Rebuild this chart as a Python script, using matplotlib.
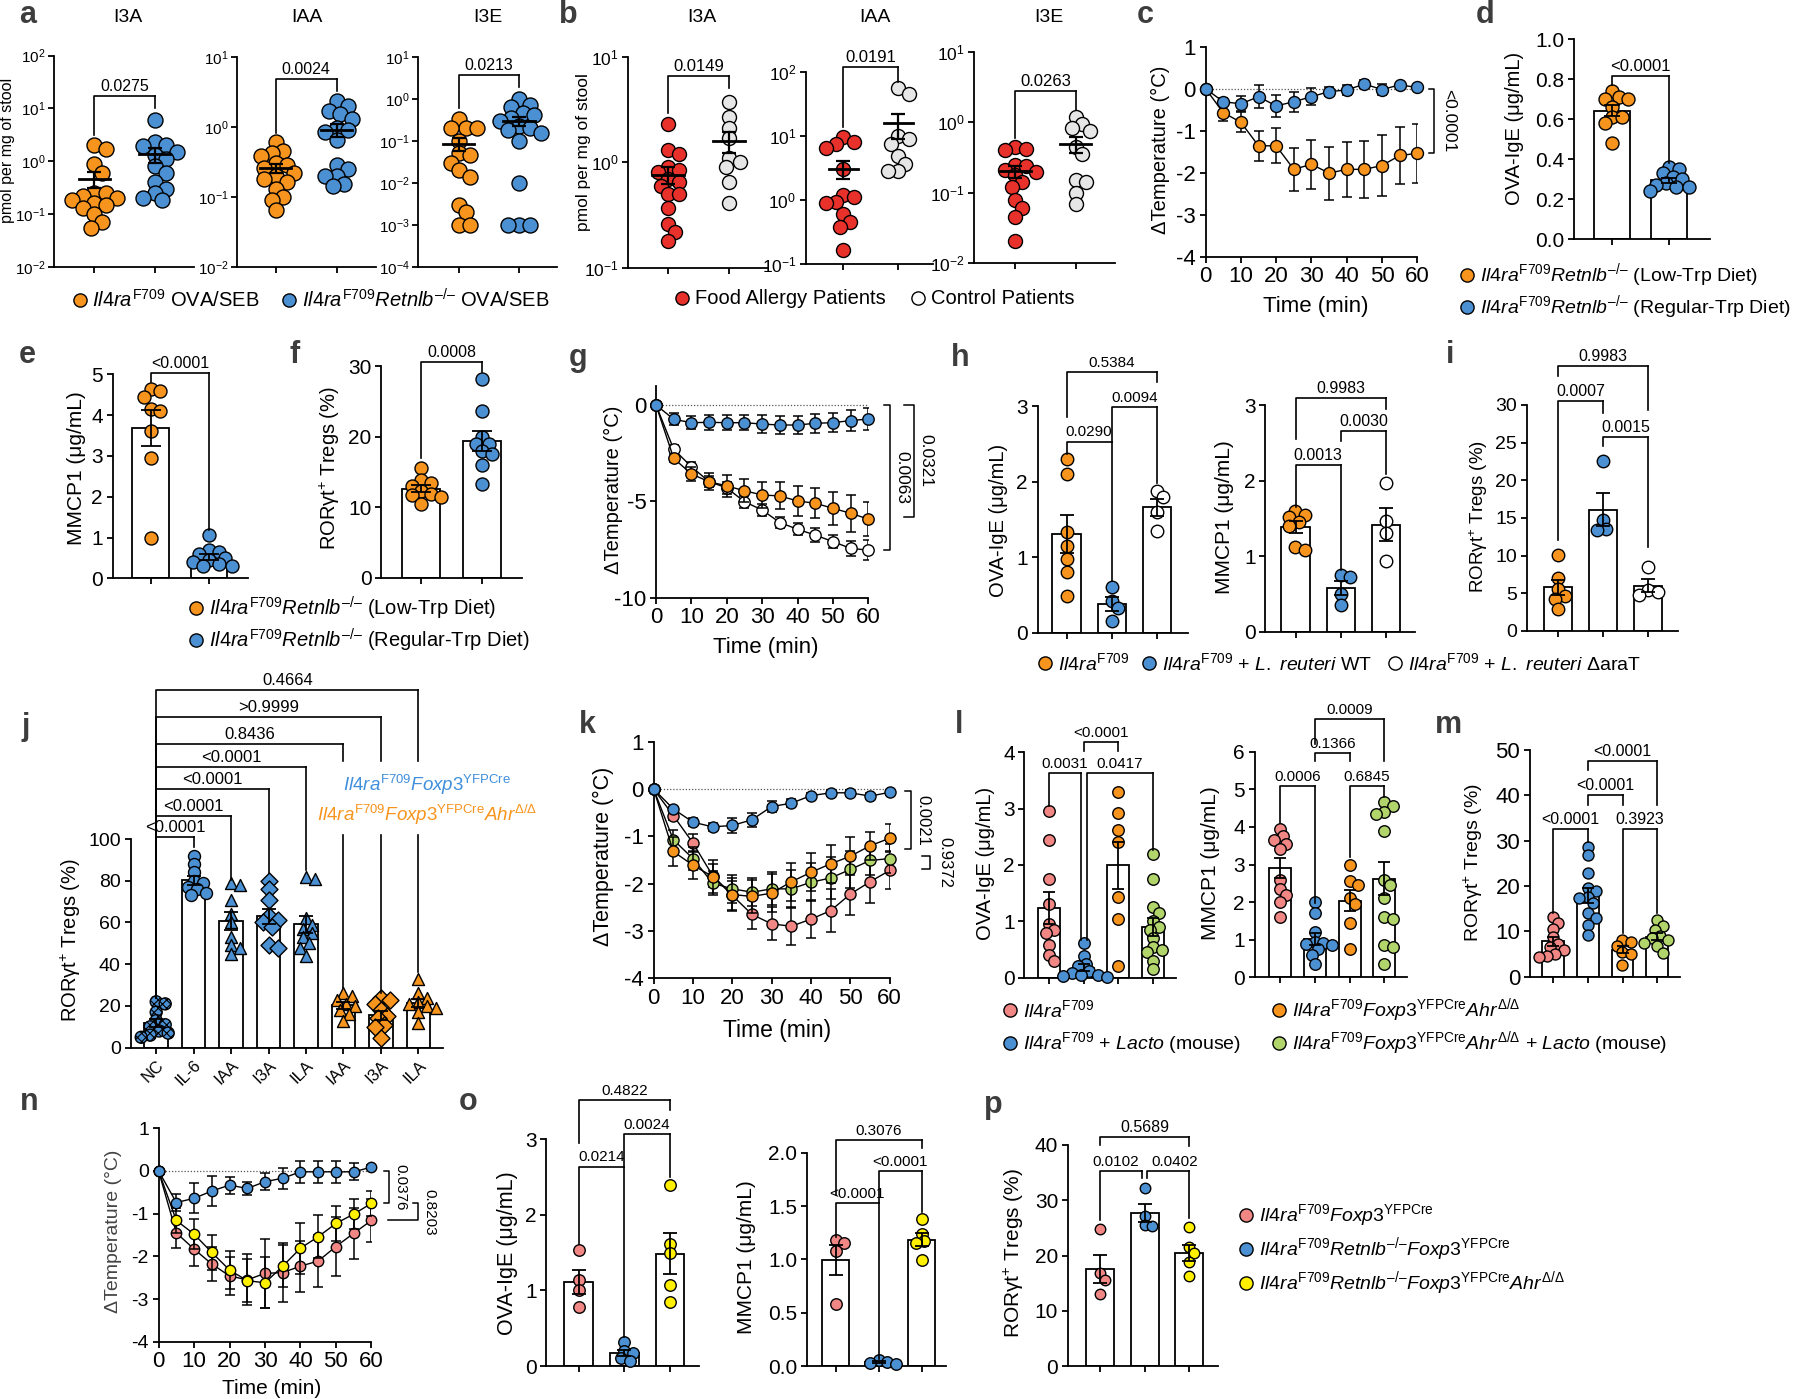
import numpy as np
import matplotlib
matplotlib.use('Agg')
import matplotlib.pyplot as plt
from matplotlib import font_manager
from matplotlib.ticker import NullLocator
from matplotlib.transforms import blended_transform_factory

# ---------------------------------------------------------------
# values
# ---------------------------------------------------------------
# a: stool indoles (pmol per mg), Il4raF709 vs Il4raF709 Retnlb-/- (OVA/SEB)
a_i3a_f709 = [2.0, 1.7, 0.9, 0.6, 0.25, 0.25, 0.22, 0.2, 0.18, 0.16, 0.15, 0.13, 0.1, 0.07, 0.055]
a_i3a_retnlb = [6.0, 2.3, 2.0, 1.9, 1.5, 1.3, 1.1, 0.8, 0.6, 0.4, 0.3, 0.25, 0.2, 0.18]
a_iaa_f709 = [0.6, 0.45, 0.42, 0.38, 0.3, 0.28, 0.26, 0.22, 0.2, 0.18, 0.16, 0.13, 0.1, 0.09, 0.065]
a_iaa_retnlb = [2.3, 2.0, 1.7, 1.5, 1.3, 0.95, 0.9, 0.85, 0.65, 0.28, 0.25, 0.2, 0.2, 0.15, 0.14]
a_i3e_f709 = [0.33, 0.2, 0.2, 0.2, 0.1, 0.05, 0.045, 0.03, 0.02, 0.014, 0.003, 0.002, 0.001, 0.001]
a_i3e_retnlb = [1.0, 0.7, 0.65, 0.45, 0.4, 0.35, 0.3, 0.22, 0.2, 0.18, 0.15, 0.1, 0.01, 0.001, 0.001, 0.001]

# b: patients (pmol per mg)
b_i3a_fa = [2.3, 1.3, 1.2, 0.9, 0.85, 0.8, 0.7, 0.65, 0.6, 0.5, 0.5, 0.37, 0.26, 0.22, 0.18]
b_i3a_ctrl = [3.7, 2.7, 2.1, 1.7, 1.1, 1.0, 0.9, 0.65, 0.41]
b_iaa_fa = [9.5, 8.0, 7.5, 6.5, 3.0, 1.2, 1.1, 0.95, 0.9, 0.6, 0.45, 0.38, 0.17]
b_iaa_ctrl = [55, 45, 10, 9, 7.5, 4.8, 3.7, 2.8, 2.8]
b_i3e_fa = [0.45, 0.42, 0.4, 0.25, 0.24, 0.21, 0.2, 0.18, 0.14, 0.12, 0.08, 0.06, 0.046, 0.021]
b_i3e_ctrl = [1.2, 0.95, 0.82, 0.75, 0.45, 0.36, 0.15, 0.14, 0.1, 0.07]

minutes = [0, 5, 10, 15, 20, 25, 30, 35, 40, 45, 50, 55, 60]

# c: delta temperature, low-Trp (orange) vs regular-Trp (blue)
c_low = [0, -0.57, -0.8, -1.36, -1.36, -1.92, -1.8, -2.01, -1.92, -1.92, -1.83, -1.59, -1.54]
c_low_sem = [0, 0.19, 0.24, 0.35, 0.42, 0.52, 0.58, 0.63, 0.65, 0.68, 0.73, 0.67, 0.7]
c_reg = [0, -0.31, -0.36, -0.19, -0.41, -0.31, -0.19, -0.07, -0.03, 0.11, -0.02, 0.09, 0.03]
c_reg_sem = [0, 0.1, 0.18, 0.27, 0.27, 0.24, 0.2, 0.1, 0.13, 0.1, 0.14, 0.05, 0.05]

# d, e, f: low-Trp vs regular-Trp diet
d_low = [0.74, 0.71, 0.70, 0.70, 0.66, 0.61, 0.61, 0.58, 0.48]
d_reg = [0.36, 0.35, 0.33, 0.31, 0.30, 0.28, 0.27, 0.26, 0.26, 0.24]
e_low = [4.65, 4.6, 4.45, 4.15, 4.1, 3.6, 2.95, 1.0]
e_reg = [1.05, 0.7, 0.65, 0.6, 0.5, 0.45, 0.4, 0.35, 0.3, 0.3]
f_low = [15.5, 13.8, 13.4, 13.0, 12.3, 11.9, 11.7, 11.5, 10.5]
f_reg = [28.1, 23.6, 20.0, 19.0, 18.9, 17.9, 17.6, 16.0, 13.3]

# g: Il4raF709 (orange), + L. reuteri WT (blue), + L. reuteri dAraT (white)
g_f709 = [0, -2.77, -3.58, -3.98, -4.2, -4.45, -4.67, -4.72, -4.98, -5.1, -5.36, -5.62, -5.92]
g_f709_sem = [0, 0.2, 0.35, 0.43, 0.55, 0.6, 0.65, 0.7, 0.78, 0.78, 0.87, 0.95, 0.9]
g_wt = [0, -0.74, -0.92, -0.9, -0.92, -0.92, -0.99, -1.04, -1.04, -0.95, -0.92, -0.81, -0.73]
g_wt_sem = [0, 0.3, 0.35, 0.4, 0.4, 0.4, 0.45, 0.45, 0.46, 0.5, 0.5, 0.55, 0.55]
g_dara = [0, -2.3, -3.2, -3.98, -4.3, -5.02, -5.45, -6.1, -6.45, -6.75, -7.09, -7.44, -7.53]
g_dara_sem = [0, 0.2, 0.25, 0.3, 0.3, 0.3, 0.3, 0.3, 0.3, 0.35, 0.35, 0.4, 0.5]

# h, i
h_ige_f709 = [2.3, 2.1, 1.33, 1.15, 0.97, 0.8, 0.48]
h_ige_wt = [0.6, 0.42, 0.33, 0.16]
h_ige_dara = [1.88, 1.8, 1.6, 1.35]
h_mmcp_f709 = [1.6, 1.55, 1.52, 1.45, 1.4, 1.12, 1.08]
h_mmcp_wt = [0.75, 0.72, 0.5, 0.35]
h_mmcp_dara = [1.97, 1.47, 1.3, 0.93]
i_f709 = [10.1, 7.1, 5.6, 4.7, 4.3, 2.9]
i_wt = [22.6, 14.7, 13.6, 13.4]
i_dara = [8.5, 5.5, 5.2, 4.8]

# j: in vitro RORgt+ Treg induction
j_groups = ['NC', 'IL-6', 'IAA', 'I3A', 'ILA', 'IAA', 'I3A', 'ILA']
j_nc = [22, 21, 17, 13, 11, 10, 8, 7, 6, 5]
j_il6 = [92, 88, 84, 80, 79, 77, 76, 74, 73]
j_iaa = [79, 78, 71, 64, 60, 53, 49, 48, 45]
j_i3a = [80, 76, 71, 63, 61, 60, 58, 49, 48]
j_ila = [82, 81, 62, 59, 57, 55, 53, 50, 48, 44]
j_iaa_ahr = [26, 25, 23, 21, 20, 18, 16, 13]
j_i3a_ahr = [24, 23, 21, 18, 15, 14, 11, 10, 4.5]
j_ila_ahr = [33, 26, 24, 22, 21, 20, 19, 17, 12]

# k: pink Il4raF709, blue + Lacto, orange AhrD/D, green AhrD/D + Lacto
k_f709 = [0, -0.56, -1.14, -1.83, -2.25, -2.65, -2.85, -2.9, -2.75, -2.57, -2.22, -1.96, -1.72]
k_f709_sem = [0, 0.1, 0.2, 0.25, 0.3, 0.3, 0.35, 0.4, 0.4, 0.45, 0.45, 0.45, 0.4]
k_lacto = [0, -0.42, -0.7, -0.8, -0.77, -0.65, -0.37, -0.3, -0.14, -0.08, -0.08, -0.15, -0.07]
k_lacto_sem = [0, 0.05, 0.08, 0.08, 0.15, 0.15, 0.12, 0.08, 0.06, 0.06, 0.06, 0.06, 0.05]
k_ahr = [0, -1.32, -1.61, -1.85, -2.23, -2.27, -2.2, -1.96, -1.76, -1.58, -1.42, -1.2, -1.04]
k_ahr_sem = [0, 0.3, 0.3, 0.35, 0.35, 0.35, 0.4, 0.4, 0.4, 0.4, 0.4, 0.3, 0.3]
k_ahr_lacto = [0, -1.07, -1.47, -1.99, -2.11, -2.18, -2.11, -2.11, -1.97, -1.88, -1.7, -1.51, -1.47]
k_ahr_lacto_sem = [0, 0.2, 0.25, 0.25, 0.3, 0.3, 0.35, 0.4, 0.4, 0.45, 0.4, 0.3, 0.3]

# l, m
l_ige_f709 = [2.95, 2.45, 1.75, 1.3, 0.95, 0.85, 0.8, 0.58, 0.4, 0.3]
l_ige_lacto = [0.62, 0.38, 0.25, 0.2, 0.12, 0.08, 0.05, 0.04, 0.03, 0.02]
l_ige_ahr = [3.3, 2.93, 2.62, 2.4, 1.44, 1.05, 0.2]
l_ige_ahr_lacto = [2.2, 1.75, 1.25, 1.15, 1.0, 0.9, 0.85, 0.7, 0.55, 0.5, 0.45, 0.3, 0.15]
l_mmcp_f709 = [3.95, 3.75, 3.65, 3.55, 3.4, 2.6, 2.35, 2.2, 2.0, 1.6]
l_mmcp_lacto = [2.0, 1.7, 1.2, 0.95, 0.9, 0.88, 0.85, 0.75, 0.6, 0.35]
l_mmcp_ahr = [3.0, 2.55, 2.45, 2.1, 1.95, 1.45, 0.75]
l_mmcp_ahr_lacto = [4.65, 4.55, 4.4, 4.35, 3.9, 2.6, 2.45, 2.1, 1.6, 1.55, 0.85, 0.8, 0.35]
m_f709 = [13.2, 11.8, 10.5, 8.7, 7.2, 6.5, 5.9, 5.0, 4.6, 4.4]
m_lacto = [28.7, 26.8, 22.8, 19.5, 18.8, 17.6, 17.3, 16.2, 14.0, 12.9, 11.4, 9.2]
m_ahr = [8.2, 7.7, 6.8, 5.5, 5.0, 2.6]
m_ahr_lacto = [12.6, 11.2, 10.3, 9.0, 8.5, 8.1, 7.4, 6.8, 5.3]

# n: pink Foxp3YFPCre, blue Retnlb-/-, yellow Retnlb-/- AhrD/D
n_f709 = [0, -1.45, -1.83, -2.18, -2.46, -2.55, -2.4, -2.38, -2.23, -2.11, -1.77, -1.46, -1.16]
n_f709_sem = [0, 0.35, 0.4, 0.4, 0.45, 0.6, 0.8, 0.7, 0.6, 0.6, 0.7, 0.6, 0.5]
n_ko = [0, -0.74, -0.64, -0.47, -0.33, -0.41, -0.25, -0.17, -0.02, -0.02, -0.02, -0.02, 0.09]
n_ko_sem = [0, 0.2, 0.35, 0.35, 0.2, 0.15, 0.2, 0.25, 0.25, 0.25, 0.25, 0.2, 0.05]
n_ko_ahr = [0, -1.16, -1.48, -1.91, -2.32, -2.57, -2.62, -2.23, -1.81, -1.54, -1.23, -1.01, -0.76]
n_ko_ahr_sem = [0, 0.3, 0.35, 0.4, 0.45, 0.5, 0.6, 0.5, 0.6, 0.5, 0.4, 0.35, 0.3]

# o, p
o_ige_f709 = [1.53, 1.14, 1.0, 0.78]
o_ige_ko = [0.32, 0.2, 0.17, 0.1, 0.07]
o_ige_ko_ahr = [2.4, 1.62, 1.49, 1.07, 0.85]
o_mmcp_f709 = [1.18, 1.15, 1.08, 0.58]
o_mmcp_ko = [0.06, 0.04, 0.03, 0.02]
o_mmcp_ko_ahr = [1.38, 1.24, 1.17, 1.15, 0.99]
p_f709 = [24.8, 16.8, 15.6, 13.0]
p_ko = [32.3, 27.2, 25.6, 25.4]
p_ko_ahr = [25.2, 21.6, 20.4, 18.9, 16.2]

# ---------------------------------------------------------------
W, H = 1800, 1399
ORANGE = '#F7941D'
BLUE = '#4A90D2'
RED = '#E8312A'
LGRAY = '#E6E6E6'
PINK = '#F08784'
GREEN = '#B2D56B'
YELLOW = '#FFF000'
LETTER = '#3d3d3d'

names = {f.name for f in font_manager.fontManager.ttflist}
SANS = 'Liberation Sans'
NARROW = 'Liberation Sans Narrow' if 'Liberation Sans Narrow' in names else SANS

plt.rcParams['font.family'] = SANS
plt.rcParams['mathtext.fontset'] = 'custom'
plt.rcParams['mathtext.rm'] = SANS
plt.rcParams['mathtext.it'] = SANS + ':italic'
plt.rcParams['mathtext.bf'] = SANS + ':bold'
plt.rcParams['axes.unicode_minus'] = False
plt.rcParams['hatch.linewidth'] = 0.8

KO = r'\mathrm{–/–}'
IL4 = r'$\mathit{Il4ra}^{\mathrm{F709}}$'
RET = r'$\mathit{Il4ra}^{\mathrm{F709}}\mathit{Retnlb}^{%s}$' % KO
FOX = r'$\mathit{Il4ra}^{\mathrm{F709}}\mathit{Foxp3}^{\mathrm{YFPCre}}$'
FOX_AHR = r'$\mathit{Il4ra}^{\mathrm{F709}}\mathit{Foxp3}^{\mathrm{YFPCre}}\mathit{Ahr}^{\mathrm{Δ/Δ}}$'
RET_FOX = r'$\mathit{Il4ra}^{\mathrm{F709}}\mathit{Retnlb}^{%s}\mathit{Foxp3}^{\mathrm{YFPCre}}$' % KO
RET_FOX_AHR = (r'$\mathit{Il4ra}^{\mathrm{F709}}\mathit{Retnlb}^{%s}\mathit{Foxp3}^{\mathrm{YFPCre}}'
               r'\mathit{Ahr}^{\mathrm{Δ/Δ}}$' % KO)
ROR = 'RORγt$^{+}$ Tregs (%)'

fig = plt.figure(figsize=(W / 100, H / 100), dpi=100)
ov = fig.add_axes([0, 0, 1, 1])
ov.set_xlim(0, W)
ov.set_ylim(H, 0)
ov.axis('off')


def panel(left, top, right, bottom, ylim, yticks, cats=None, xlim=None, xt=None,
          fs=14, narrow=False, log=False, pad=2.5):
    ax = fig.add_axes([left / W, 1 - bottom / H, (right - left) / W, (bottom - top) / H])
    ax.patch.set_visible(False)
    for s in ['top', 'right']:
        ax.spines[s].set_visible(False)
    for s in ['left', 'bottom']:
        ax.spines[s].set_linewidth(1.3)
    if log:
        ax.set_yscale('log')
    ax.set_ylim(*ylim)
    ax.set_yticks(yticks)
    if log:
        ax.set_yticklabels(['$\\mathregular{10^{%d}}$' % round(np.log10(v)) for v in yticks])
        ax.yaxis.set_minor_locator(NullLocator())
    if cats is not None:
        c0, step, n = cats
        ax.set_xlim((left - c0) / step, (right - c0) / step)
        ax.set_xticks(range(n))
        ax.set_xticklabels([])
    else:
        ax.set_xlim(*xlim)
        ax.set_xticks(xt)
    ax.tick_params(direction='out', length=4.5, width=1.3, labelsize=fs, pad=pad)
    if narrow:
        for lab in ax.get_xticklabels() + ax.get_yticklabels():
            lab.set_fontfamily(NARROW)
    return ax


def swarm_x(ax, xc, vals, d):
    vals = np.asarray(vals, float)
    pts = ax.transData.transform(np.column_stack([np.full(len(vals), xc), vals]))
    cx, ys = pts[0, 0], pts[:, 1]
    placed, xs = [], np.empty(len(vals))
    for i in np.argsort(-ys):
        for k in range(80):
            off = (k + 1) // 2 * (1 if k % 2 else -1) * d * 0.25
            if all((off - px) ** 2 + (ys[i] - py) ** 2 >= (0.68 * d) ** 2 for px, py in placed):
                break
        placed.append((off, ys[i]))
        xs[i] = cx + off
    return ax.transData.inverted().transform(np.column_stack([xs, ys]))[:, 0]


def bar_dots(ax, groups, colors, d, markers=None, cap=6, hatches=None):
    for i, g in enumerate(groups):
        g = np.asarray(g, float)
        m, s = g.mean(), g.std(ddof=1) / np.sqrt(len(g))
        ax.bar(i, m, 0.63, color='white', edgecolor='k', lw=1.3, zorder=1)
        ax.scatter(swarm_x(ax, i, g, d), g, s=(d * 0.72) ** 2, c=colors[i], edgecolors='k',
                   linewidths=1.0, marker=markers[i] if markers else 'o', zorder=3,
                   clip_on=False, hatch=hatches[i] if hatches else None)
        ax.errorbar(i, m, yerr=s, color='k', lw=1.3, capsize=cap, capthick=1.3, zorder=4)


def mean_dots(ax, groups, colors, d):
    for i, g in enumerate(groups):
        g = np.asarray(g, float)
        m, s = g.mean(), g.std(ddof=1) / np.sqrt(len(g))
        ax.scatter(swarm_x(ax, i, g, d), g, s=(d * 0.72) ** 2, c=colors[i], edgecolors='k',
                   linewidths=1.0, zorder=3, clip_on=False)
        ax.plot([i - 0.26, i + 0.26], [m, m], color='k', lw=2.0, zorder=4)
        ax.errorbar(i, m, yerr=s, color='k', lw=1.6, capsize=5, capthick=1.6, zorder=4)


def course(ax, mean, sem, color, ms, z):
    ax.errorbar(minutes, mean, yerr=sem, fmt='none', ecolor='k', elinewidth=1.1,
                capsize=3.5, capthick=1.1, zorder=z)
    ax.plot(minutes, mean, color='k', lw=1.0, zorder=z)
    ax.plot(minutes, mean, 'o', ms=ms, mfc=color, mec='k', mew=1.0, zorder=z + 0.5, clip_on=False)


def zero_line(ax):
    ax.plot([0, 60], [0, 0], ls=(0, (1, 1.5)), color='#555555', lw=0.9, zorder=0)


def bracket(ax, x1, x2, y, y1, y2, txt, fs=11.5, narrow=False, gap=None, dx=0):
    kw = dict(color='k', lw=1.2, clip_on=False, zorder=5)
    ax.plot([x1, x1, x2], [y1, y, y], **kw)
    if gap is None:
        ax.plot([x2, x2], [y, y2], **kw)
    else:
        ax.plot([x2, x2], [y, gap[0]], **kw)
        ax.plot([x2, x2], [gap[1], y2], **kw)
    ax.annotate(txt, ((x1 + x2) / 2, y), xytext=(dx, 1.5), textcoords='offset points',
                ha='center', va='bottom', fontsize=fs, family=NARROW if narrow else SANS,
                annotation_clip=False)


def vbracket(ax, xpx, y1, y2, txt, tick=6, tick2=None, tdx=12, fs=12):
    tr = blended_transform_factory(ov.transData, ax.transData)
    t2 = tick if tick2 is None else tick2
    ax.plot([xpx - tick, xpx, xpx, xpx - t2], [y1, y1, y2, y2], transform=tr,
            color='k', lw=1.1, clip_on=False)
    ax.text(xpx + tdx, (y1 + y2) / 2, txt, transform=tr, rotation=270, ha='center',
            va='center', fontsize=fs, family=NARROW)


def ylab(x, y, txt, fs=14, narrow=False, color='k'):
    ov.text(x, y, txt, rotation=90, ha='center', va='center', fontsize=fs,
            family=NARROW if narrow else SANS, color=color)


def legend_item(x, y, color, txt, fs=14, ms=9.5):
    ov.plot([x], [y], 'o', ms=ms, mfc=color, mec='k', mew=1.0, clip_on=False)
    ov.text(x + 13, y, txt, fontsize=fs, ha='left', va='center')


# panel letters
for lt, x, y in [('a', 28, 15), ('b', 568, 15), ('c', 1145, 15), ('d', 1485, 15),
                 ('e', 27, 355), ('f', 295, 355), ('g', 578, 358), ('h', 960, 358),
                 ('i', 1450, 355), ('j', 26, 727), ('k', 587, 725), ('l', 959, 725),
                 ('m', 1448, 725), ('n', 29, 1102), ('o', 468, 1102), ('p', 993, 1105)]:
    ov.text(x, y, lt, fontsize=22, fontweight='bold', color=LETTER, ha='center', va='center')

# ---------------- a ----------------
a_specs = [('I3A', (53.6, 55.7, 194, 266.7), (1e-2, 1e2), (94.3, 60.3), a_i3a_f709, a_i3a_retnlb,
            (17.5, 3.1, 10), '0.0275', 127.6),
           ('IAA', (236.8, 56.7, 375.5, 266.7), (1e-2, 1e1), (275.6, 61), a_iaa_f709, a_iaa_retnlb,
            (4.8, 0.8, 3.2), '0.0024', 307),
           ('I3E', (418, 56.7, 557, 266.7), (1e-4, 1e1), (458.7, 60.3), a_i3e_f709, a_i3e_retnlb,
            (3.6, 0.59, 1.86), '0.0213', 488)]
for title, (l, t, r, b), yl, (c0, st), g1, g2, (by, b1, b2), pv, tx in a_specs:
    ax = panel(l, t, r, b, yl, 10.0 ** np.arange(np.log10(yl[0]), np.log10(yl[1]) + 1),
               cats=(c0, st, 2), fs=11, log=True, pad=1.5)
    mean_dots(ax, [g1, g2], [ORANGE, BLUE], 15)
    bracket(ax, 0, 1, by, b1, b2, pv, fs=11.5)
    ov.text(tx, 18, title, fontsize=14, ha='center', va='center')
ylab(8, 150, 'pmol per mg of stool', 11.5)
legend_item(79.5, 300, ORANGE, IL4 + ' OVA/SEB', fs=14.5)
legend_item(288.6, 300, BLUE, RET + ' OVA/SEB', fs=14.5)

# ---------------- b ----------------
b_specs = [('I3A', (628.3, 56.7, 768, 267.7), (1e-1, 1e1), (668.3, 61), b_i3a_fa, b_i3a_ctrl,
            (6.5, 2.9, 5.0), '0.0149', 701.7),
           ('IAA', (806, 71.7, 933, 264.3), (1e-1, 1e2), (843.3, 55), b_iaa_fa, b_iaa_ctrl,
            (120, 14, 70), '0.0191', 875),
           ('I3E', (974.3, 51.7, 1114.8, 263.3), (1e-2, 1e1), (1015.3, 60.2), b_i3e_fa, b_i3e_ctrl,
            (2.8, 0.59, 1.5), '0.0263', 1048.5)]
for title, (l, t, r, b), yl, (c0, st), g1, g2, (by, b1, b2), pv, tx in b_specs:
    ax = panel(l, t, r, b, yl, 10.0 ** np.arange(np.log10(yl[0]), np.log10(yl[1]) + 1),
               cats=(c0, st, 2), fs=12.5, log=True)
    mean_dots(ax, [g1, g2], [RED, LGRAY], 14)
    bracket(ax, 0, 1, by, b1, b2, pv, fs=12)
    ov.text(tx, 18, title, fontsize=14, ha='center', va='center')
ylab(583.3, 152, 'pmol per mg of stool', 12.5)
legend_item(681.7, 298, RED, 'Food Allergy Patients', fs=14.5)
legend_item(918.3, 298, 'white', 'Control Patients', fs=14.5)

# ---------------- c ----------------
ax = panel(1205.6, 46.7, 1417.3, 256.7, (-4, 1), range(-4, 2), xlim=(0, 60),
           xt=range(0, 61, 10), fs=16, narrow=True)
zero_line(ax)
course(ax, c_low, c_low_sem, ORANGE, 8.6, 3)
course(ax, c_reg, c_reg_sem, BLUE, 8.6, 5)
vbracket(ax, 1433.7, 0, -1.54, '<0.0001', tick=5, tdx=15, fs=12.5)
ylab(1160.7, 150, 'ΔTemperature (°C)', 14.5)
ov.text(1316, 306.7, 'Time (min)', fontsize=16, family=NARROW, ha='center', va='center')

# ---------------- d ----------------
ax = panel(1574, 39.3, 1710, 239.3, (0, 1), np.round(np.arange(0, 1.01, 0.2), 1),
           cats=(1612, 57.4, 2), fs=15)
bar_dots(ax, [d_low, d_reg], [ORANGE, BLUE], 13, cap=6)
bracket(ax, 0, 1, 0.817, 0.77, 0.38, '<0.0001', fs=12)
ylab(1515, 128, 'OVA-IgE (μg/mL)', 14.5)
legend_item(1466.8, 275, ORANGE, RET + ' (Low-Trp Diet)', fs=14)
legend_item(1466.8, 306.7, BLUE, RET + ' (Regular-Trp Diet)', fs=14)

# ---------------- e, f ----------------
ax = panel(112.5, 374.3, 248, 578.3, (0, 5), range(6), cats=(150.7, 58.3, 2), fs=15)
bar_dots(ax, [e_low, e_reg], [ORANGE, BLUE], 13, cap=7)
bracket(ax, 0, 1, 5.04, 4.82, 1.18, '<0.0001', fs=11.5)
ylab(76.8, 468, 'MMCP1 (μg/mL)', 15)

ax = panel(381.4, 366, 522, 577.7, (0, 30), [0, 10, 20, 30], cats=(421.4, 60.6, 2), fs=15)
bar_dots(ax, [f_low, f_reg], [ORANGE, BLUE], 13, cap=7)
bracket(ax, 0, 1, 30.5, 16.9, 29.2, '0.0008', fs=11.5)
ylab(330, 468, ROR, 14.5)
legend_item(196.4, 608.3, ORANGE, RET + ' (Low-Trp Diet)', fs=14.5)
legend_item(196.4, 640, BLUE, RET + ' (Regular-Trp Diet)', fs=14.5)

# ---------------- g ----------------
ax = panel(656, 385.7, 868.3, 597.7, (-10, 1), [-10, -5, 0], xlim=(0, 60),
           xt=range(0, 61, 10), fs=16, narrow=True)
zero_line(ax)
course(ax, g_dara, g_dara_sem, 'white', 8.2, 3)
course(ax, g_f709, g_f709_sem, ORANGE, 8.2, 5)
course(ax, g_wt, g_wt_sem, BLUE, 8.2, 7)
vbracket(ax, 889.6, 0, -7.5, '0.0063', tick=6, tdx=12, fs=12.5)
vbracket(ax, 913.9, 0, -5.8, '0.0321', tick=10, tdx=12, fs=12.5)
ylab(613, 490, 'ΔTemperature (°C)', 14.5)
ov.text(766, 648, 'Time (min)', fontsize=16, family=NARROW, ha='center', va='center')

# ---------------- h ----------------
ax = panel(1037.5, 406, 1187.7, 632.7, (0, 3), [0, 1, 2, 3], cats=(1066.5, 45.35, 3), fs=15)
bar_dots(ax, [h_ige_f709, h_ige_wt, h_ige_dara], [ORANGE, BLUE, 'white'], 12.5, cap=5)
bracket(ax, 0, 1, 2.53, 2.37, 0.69, '0.0290', fs=11, narrow=True)
bracket(ax, 1, 2, 2.99, 2.53, 1.98, '0.0094', fs=11, narrow=True)
bracket(ax, 0, 2, 3.45, 2.85, 3.32, '0.5384', fs=11, narrow=True)
ylab(998.7, 520, 'OVA-IgE (μg/mL)', 14.5)

ax = panel(1265.3, 405, 1415, 631.7, (0, 3), [0, 1, 2, 3], cats=(1295.5, 45.3, 3), fs=15)
bar_dots(ax, [h_mmcp_f709, h_mmcp_wt, h_mmcp_dara], [ORANGE, BLUE, 'white'], 12.5, cap=5)
bracket(ax, 0, 1, 2.2, 1.65, 0.81, '0.0013', fs=11.5)
bracket(ax, 1, 2, 2.65, 2.53, 2.09, '0.0030', fs=11.5)
bracket(ax, 0, 2, 3.09, 2.55, 2.95, '0.9983', fs=11.5)
ylab(1224, 517, 'MMCP1 (μg/mL)', 15)
legend_item(1044.7, 663, ORANGE, IL4, fs=14)
legend_item(1149, 663, BLUE, IL4 + r' + $\mathit{L.\ reuteri}$ WT', fs=14)
legend_item(1395, 663, 'white', IL4 + r' + $\mathit{L.\ reuteri}$ ΔaraT', fs=14)

# ---------------- i ----------------
ax = panel(1526.7, 405, 1678, 631, (0, 30), range(0, 31, 5), cats=(1558.3, 45, 3), fs=14)
bar_dots(ax, [i_f709, i_wt, i_dara], [ORANGE, BLUE, 'white'], 12.5, cap=5)
bracket(ax, 0, 1, 30.5, 12.1, 28.9, '0.0007', fs=11.5)
bracket(ax, 1, 2, 25.8, 24.5, 11.2, '0.0015', fs=11.5)
bracket(ax, 0, 2, 35.2, 33.9, 29.4, '0.9983', fs=11.5)
ylab(1478.3, 516.7, ROR, 13.5)

# ---------------- j ----------------
ax = panel(130.5, 839, 442.9, 1047.7, (0, 100), range(0, 101, 20), cats=(156.2, 37.45, 8), fs=14)
ax.set_xticklabels(j_groups, rotation=45, ha='right', rotation_mode='anchor', fontsize=12)
bar_dots(ax, [j_nc, j_il6, j_iaa, j_i3a, j_ila, j_iaa_ahr, j_i3a_ahr, j_ila_ahr],
         [BLUE] * 5 + [ORANGE] * 3, 12, markers=['o', 'o', '^', 'D', '^', '^', 'D', '^'],
         cap=5, hatches=['xxxx'] + [None] * 7)
j_brackets = [(1, 100.8, 96.3, '<0.0001'), (2, 111.2, 80.4, '<0.0001'),
              (3, 123.8, 83.5, '<0.0001'), (4, 134.3, 85, '<0.0001'),
              (5, 145.5, 28.4, '0.8436'), (6, 158.3, 26, '>0.9999'), (7, 171.4, 36.4, '0.4664')]
for x2, by, b2, pv in j_brackets:
    bracket(ax, 0, x2, by, 24, b2, pv, fs=12, gap=(137.5, 101.9) if x2 >= 5 else None)
ov.text(427, 785, FOX, fontsize=13.5, color='#3F8FDB', ha='center', va='center')
ov.text(427, 815, FOX_AHR, fontsize=13.5, color=ORANGE, ha='center', va='center')
ylab(71, 940, ROR, 14.5)

# ---------------- k ----------------
ax = panel(653.6, 741.7, 889.7, 978.3, (-4, 1), range(-4, 2), xlim=(0, 60),
           xt=range(0, 61, 10), fs=16, narrow=True)
zero_line(ax)
course(ax, k_f709, k_f709_sem, PINK, 8, 3)
course(ax, k_ahr_lacto, k_ahr_lacto_sem, GREEN, 8, 5)
course(ax, k_ahr, k_ahr_sem, ORANGE, 8, 7)
course(ax, k_lacto, k_lacto_sem, BLUE, 8, 9)
vbracket(ax, 910.5, -0.05, -1.27, '0.0021', tick=6, tdx=12, fs=12)
vbracket(ax, 930, -1.42, -1.70, '0.9372', tick=8, tdx=14.5, fs=12)
ylab(603, 856.7, 'ΔTemperature (°C)', 15.5)
ov.text(777, 1030, 'Time (min)', fontsize=16.5, family=NARROW, ha='center', va='center')

# ---------------- l ----------------
l_cols = [PINK, BLUE, ORANGE, GREEN]
ax = panel(1024.4, 752.3, 1176, 977.7, (0, 4), range(5), cats=(1048.7, 34.8, 4), fs=15, narrow=True)
bar_dots(ax, [l_ige_f709, l_ige_lacto, l_ige_ahr, l_ige_ahr_lacto], l_cols, 11.5, cap=4.5)
bracket(ax, 0, 0.93, 3.63, 3.04, 0.67, '0.0031', fs=11, narrow=True)
bracket(ax, 1.1, 3, 3.63, 0.67, 2.27, '0.0417', fs=11, narrow=True)
bracket(ax, 1, 2, 4.19, 4.03, 4.03, '<0.0001', fs=11, narrow=True)
ylab(985.7, 863, 'OVA-IgE (μg/mL)', 14.5)

ax = panel(1254.7, 751.7, 1406.7, 977.3, (0, 6), range(7), cats=(1280, 34.8, 4), fs=15, narrow=True)
bar_dots(ax, [l_mmcp_f709, l_mmcp_lacto, l_mmcp_ahr, l_mmcp_ahr_lacto], l_cols, 11.5, cap=4.5)
bracket(ax, 0, 1, 5.09, 4.1, 1.97, '0.0006', fs=11, narrow=True)
bracket(ax, 2, 3, 5.09, 3.2, 4.8, '0.6845', fs=11, narrow=True)
bracket(ax, 1, 2, 5.96, 5.74, 5.74, '0.1366', fs=11, narrow=True)
bracket(ax, 1, 3, 6.86, 6.2, 5.74, '0.0009', fs=11, narrow=True)
ylab(1211, 863, 'MMCP1 (μg/mL)', 15)
legend_item(1010, 1010, PINK, IL4, fs=14)
legend_item(1010, 1043.3, BLUE, IL4 + r' + $\mathit{Lacto}$ (mouse)', fs=14)
legend_item(1279, 1010, ORANGE, FOX_AHR, fs=14)
legend_item(1279, 1043.3, GREEN, FOX_AHR + r' + $\mathit{Lacto}$ (mouse)', fs=14)

# ---------------- m ----------------
ax = panel(1530, 750, 1680, 976.7, (0, 50), range(0, 51, 10), cats=(1552.7, 34.9, 4), fs=16)
bar_dots(ax, [m_f709, m_lacto, m_ahr, m_ahr_lacto], l_cols, 11, cap=4.5)
bracket(ax, 0, 1, 32.5, 14, 29.8, '<0.0001', fs=11.5)
bracket(ax, 2, 3, 32.5, 9.6, 14, '0.3923', fs=11.5)
bracket(ax, 1, 2, 40.1, 37.9, 37.9, '<0.0001', fs=11.5)
bracket(ax, 1, 3, 47.6, 45.6, 37.9, '<0.0001', fs=11.5)
ylab(1473.3, 863, ROR, 14)

# ---------------- n ----------------
ax = panel(158.6, 1128.3, 371.4, 1341.7, (-4, 1), range(-4, 2), xlim=(0, 60),
           xt=range(0, 61, 10), fs=14, narrow=True)
ax.tick_params(axis='x', labelsize=16)
zero_line(ax)
course(ax, n_f709, n_f709_sem, PINK, 7.5, 3)
course(ax, n_ko_ahr, n_ko_ahr_sem, YELLOW, 7.5, 5)
course(ax, n_ko, n_ko_sem, BLUE, 7.5, 7)
vbracket(ax, 389, 0, -0.76, '0.0376', tick=5, tdx=11, fs=11)
vbracket(ax, 418, -0.76, -1.16, '0.8203', tick=5, tick2=30, tdx=11, fs=11)
ylab(114, 1231.7, 'ΔTemperature (°C)', 14, color='#444444')
ov.text(271.4, 1388, 'Time (min)', fontsize=15, family=NARROW, ha='center', va='center')

# ---------------- o ----------------
o_cols = [PINK, BLUE, YELLOW]
ax = panel(546.4, 1139.3, 698.6, 1366, (0, 3), [0, 1, 2, 3], cats=(578.6, 45.7, 3), fs=15, narrow=True)
bar_dots(ax, [o_ige_f709, o_ige_ko, o_ige_ko_ahr], o_cols, 11.5, cap=5)
bracket(ax, 0, 1, 2.64, 1.62, 0.39, '0.0214', fs=11, narrow=True)
bracket(ax, 1, 2, 3.07, 2.64, 2.5, '0.0024', fs=11, narrow=True)
bracket(ax, 0, 2, 3.52, 2.95, 3.39, '0.4822', fs=11, narrow=True)
ylab(507, 1253, 'OVA-IgE (μg/mL)', 15.5)

ax = panel(807, 1152.7, 946.4, 1366, (0, 2), [0, 0.5, 1.0, 1.5, 2.0], cats=(835.7, 42.9, 3),
           fs=15, narrow=True)
bar_dots(ax, [o_mmcp_f709, o_mmcp_ko, o_mmcp_ko_ahr], o_cols, 11.5, cap=5)
bracket(ax, 0, 1, 1.53, 1.21, 0.07, '<0.0001', fs=11, narrow=True)
bracket(ax, 1, 2, 1.83, 1.53, 1.44, '<0.0001', fs=11, narrow=True)
bracket(ax, 0, 2, 2.12, 1.6, 2.04, '0.3076', fs=11, narrow=True)
ylab(746, 1256.7, 'MMCP1 (μg/mL)', 15)

# ---------------- p ----------------
ax = panel(1067.9, 1145, 1218.3, 1366, (0, 40), range(0, 41, 10), cats=(1100, 44.6, 3),
           fs=15, narrow=True)
bar_dots(ax, [p_f709, p_ko, p_ko_ahr], o_cols, 10.5, cap=5)
bracket(ax, 0, 0.95, 35.3, 26.4, 34.0, '0.0102', fs=11, narrow=True, dx=-4)
bracket(ax, 1.05, 2, 35.3, 34.0, 26.7, '0.0402', fs=11, narrow=True, dx=5)
bracket(ax, 0, 2, 41.4, 40.0, 39.8, '0.5689', fs=11.5, narrow=True)
ylab(1014, 1253, ROR, 15)
legend_item(1246.4, 1215, PINK, FOX, fs=14)
legend_item(1246.4, 1249.3, BLUE, RET_FOX, fs=14)
legend_item(1246.4, 1282.7, YELLOW, RET_FOX_AHR, fs=14)

fig.savefig('out.png', dpi=100)
